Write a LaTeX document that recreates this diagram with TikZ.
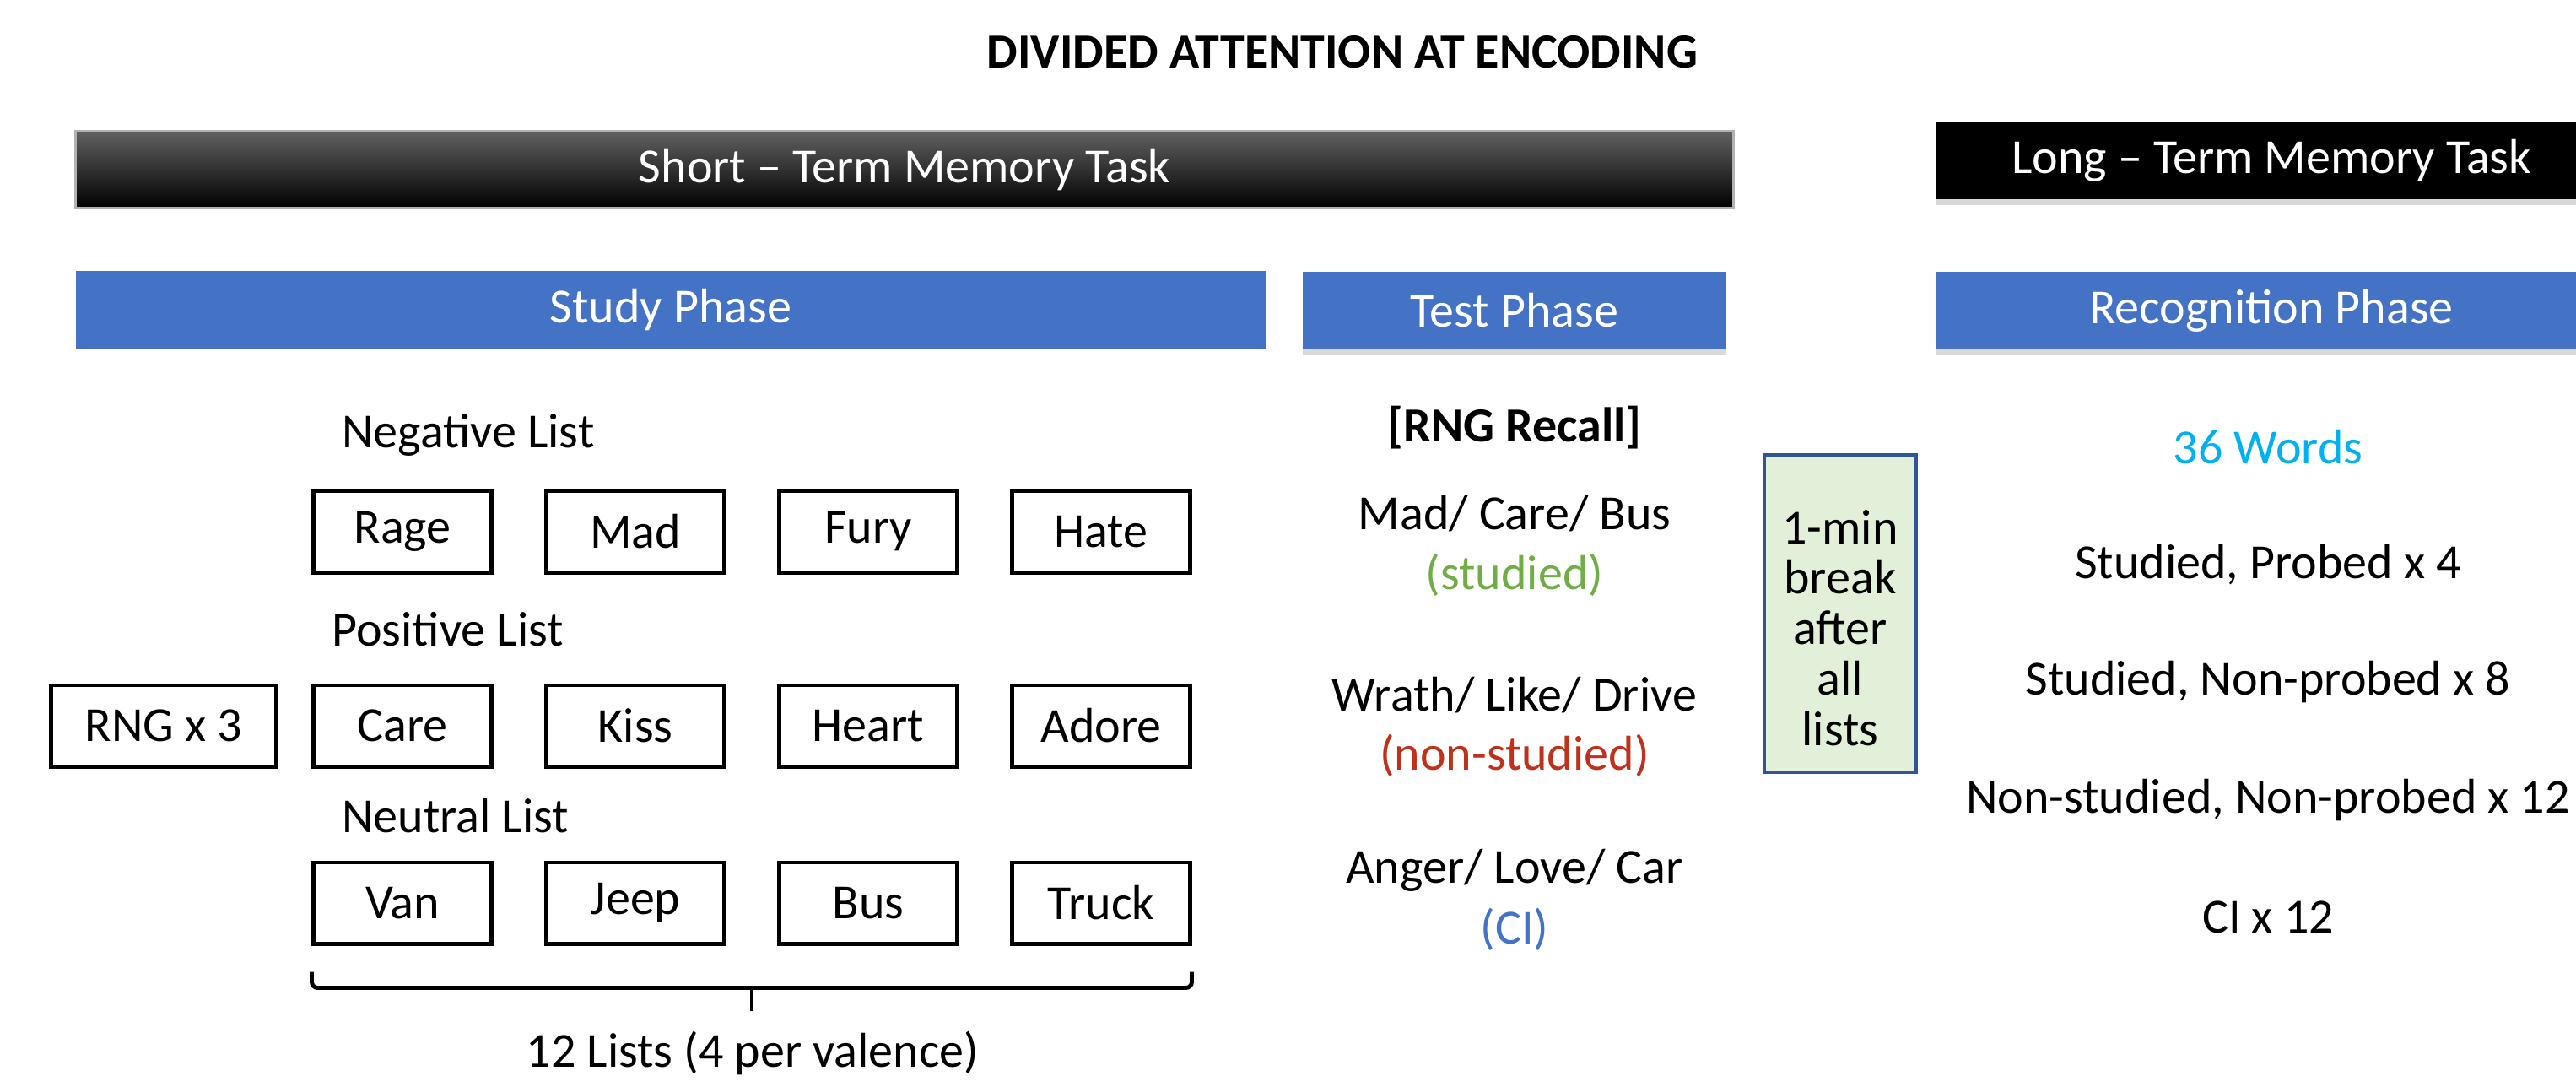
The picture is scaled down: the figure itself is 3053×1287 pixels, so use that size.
\documentclass[tikz,border=0pt]{standalone}
\usepackage{fontspec}
\setmainfont{Carlito}
\usetikzlibrary{shadows,calc}

\definecolor{phaseblue}{HTML}{4472C4}
\definecolor{studgreen}{HTML}{70AD47}
\definecolor{nonred}{HTML}{C0311B}
\definecolor{wordcyan}{HTML}{00B0F0}
\definecolor{breakfill}{HTML}{E2F0D9}
\definecolor{breakline}{HTML}{2F5597}

\begin{document}
\begin{tikzpicture}[
  x=0.01cm, y=-0.01cm,
  font=\fontsize{16.5}{17.6}\selectfont,
  bar/.style={fill=black, text=white, minimum height=0.91cm, inner sep=0pt},
  shortbar/.style={bar, top color=black!62, middle color=black, bottom color=black, draw=black!30, line width=0.8pt},
  phase/.style={fill=phaseblue, text=white, minimum height=0.91cm, inner sep=0pt},
  shade/.style={drop shadow={opacity=0.3, shadow xshift=0cm, shadow yshift=-0.07cm}},
  word/.style={draw, line width=1.4pt, minimum width=2.1cm, minimum height=0.96cm, inner sep=0pt},
  breakbox/.style={draw=breakline, fill=breakfill, line width=1pt, minimum width=1.8cm, minimum height=3.76cm, inner sep=0pt},
  bracket/.style={line width=1.4pt, rounded corners=2pt}
]
  \useasboundingbox (0,0) rectangle (3053,1287);

  % Titel
  \node[font=\fontsize{16.5}{18}\selectfont\bfseries] (title) at (1591,62) {DIVIDED ATTENTION AT ENCODING};

  % Balken
  \node[shortbar, minimum width=19.64cm] (stm) at (1072,201) {Short -- Term Memory Task};
  \node[bar, shade, minimum width=7.96cm] (ltm) at (2692,190) {Long -- Term Memory Task};

  \node[phase, minimum width=14.09cm] (study) at (795,367) {Study Phase};
  \node[phase, shade, minimum width=5.02cm] (test) at (1795,368) {Test Phase};
  \node[phase, shade, minimum width=7.96cm] (recog) at (2692,368) {Recognition Phase};

  % Listen
  \node[anchor=west] (neg) at (393,515) {Negative List};
  \node[anchor=west] (pos) at (381,746) {Positive List};
  \node[anchor=west] (neu) at (393,967) {Neutral List};

  \node[word, minimum width=2.67cm] (rng) at (194,860) {RNG x 3};

  \foreach \w [count=\c] in {Rage, Mad, Fury, Hate}
    \node[word] (w1\c) at ({477+276*(\c-1)},630) {\w};
  \foreach \w [count=\c] in {Care, Kiss, Heart, Adore}
    \node[word] (w2\c) at ({477+276*(\c-1)},860) {\w};
  \foreach \w [count=\c] in {Van, Jeep, Bus, Truck}
    \node[word] (w3\c) at ({477+276*(\c-1)},1070) {\w};

  % Klammer
  \coordinate (bl) at ([yshift=-0.31cm]w31.south west);
  \coordinate (br) at ([yshift=-0.31cm]w34.south east);
  \draw[bracket] (bl) -- ++(0,19) coordinate (bl2) -- (bl2 -| br) -- (br);
  \draw[bracket] ($(bl2)!0.5!(bl2 -| br)$) coordinate (tip) -- ++(0,27);
  \node (lists) at (892,1248) {12 Lists (4 per valence)};

  % Testphase
  \node[font=\fontsize{16.5}{18}\selectfont\bfseries] (recall) at (1795,507) {[RNG Recall]};
  \node (t1) at (1795,609) {Mad/ Care/ Bus};
  \node[text=studgreen] (t1c) at (1795,681) {(studied)};
  \node (t2) at (1795,824) {Wrath/ Like/ Drive};
  \node[text=nonred] (t2c) at (1795,895) {(non-studied)};
  \node (t3) at (1795,1031) {Anger/ Love/ Car};
  \node[text=phaseblue] (t3c) at (1795,1101) {(CI)};

  % Pause
  \node[breakbox] (pause) at (2181,727) {};
  \node[align=center, font=\fontsize{16.5}{17}\selectfont] (pausetext) at ([yshift=-0.17cm]pause.center) {1-min\\break\\after\\all\\lists};

  % Wiedererkennung
  \node[text=wordcyan] (r0) at (2688,530) {36 Words};
  \node (r1) at (2688,669) {Studied, Probed x 4};
  \node (r2) at (2688,808) {Studied, Non-probed x 8};
  \node (r3) at (2688,948) {Non-studied, Non-probed x 12};
  \node (r4) at (2688,1087) {CI x 12};

\end{tikzpicture}
\end{document}
